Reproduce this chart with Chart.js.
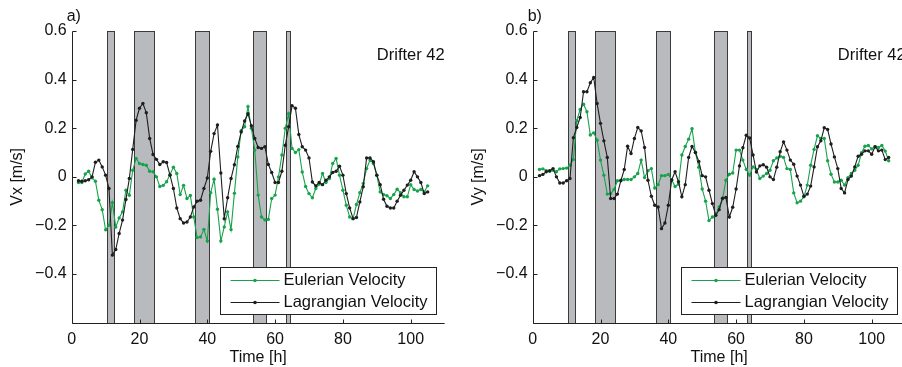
<!DOCTYPE html>
<html>
<head>
<meta charset="utf-8">
<title>Drifter 42 velocities</title>
<script src="https://cdn.jsdelivr.net/npm/chart.js@4.4.1/dist/chart.umd.min.js"></script>
<style>
  html, body { margin: 0; padding: 0; background: #fff; }
  #wrap { position: relative; width: 902px; height: 367px; overflow: hidden; }
  #wrap canvas { position: absolute; top: 0; }
  #vxChart { left: 0; }
  #vyChart { left: 461px; }
</style>
</head>
<body>
<div id="wrap">
  <canvas id="vxChart" width="460" height="367"></canvas>
  <canvas id="vyChart" width="460" height="367"></canvas>
</div>
<script>
// sample times [h]
const hours = [
  2, 3, 4, 5, 6, 7, 8, 9, 10, 11,
  12, 13, 14, 15, 16, 17, 18, 19, 20, 21,
  22, 23, 24, 25, 26, 27, 28, 29, 30, 31,
  32, 33, 34, 35, 36, 37, 38, 39, 40, 41,
  42, 43, 44, 45, 46, 47, 48, 49, 50, 51,
  52, 53, 54, 55, 56, 57, 58, 59, 60, 61,
  62, 63, 64, 65, 66, 67, 68, 69, 70, 71,
  72, 73, 74, 75, 76, 77, 78, 79, 80, 81,
  82, 83, 84, 85, 86, 87, 88, 89, 90, 91,
  92, 93, 94, 95, 96, 97, 98, 99, 100, 101,
  102, 103, 104, 105
];

// east-west velocity [m/s]
const vxEulerian = [
  -0.023, -0.023, 0.012, 0.023, -0.004, -0.018, -0.096, -0.135, -0.218, -0.199,
  -0.106, -0.206, -0.169, -0.144, -0.055, -0.076, 0.027, 0.076, 0.055, 0.051,
  0.048, 0.023, 0.021, 0.000, -0.040, -0.035, -0.020, 0.010, 0.040, 0.014,
  -0.073, -0.035, -0.089, -0.077, -0.165, -0.250, -0.247, -0.216, -0.264, -0.065,
  -0.010, -0.133, -0.264, -0.206, -0.144, -0.217, -0.067, 0.082, 0.190, 0.206,
  0.289, 0.200, 0.110, -0.075, -0.165, -0.177, -0.175, -0.089, -0.075, 0.000,
  0.090, 0.200, 0.260, 0.117, 0.100, 0.112, 0.020, -0.040, -0.069, -0.086,
  -0.048, -0.030, 0.014, -0.023, -0.007, 0.055, 0.076, 0.007, -0.055, -0.117,
  -0.165, -0.172, -0.114, -0.065, -0.027, 0.034, 0.069, 0.055, 0.007, -0.062,
  -0.073, -0.078, -0.089, -0.073, -0.051, -0.065, -0.082, -0.082, -0.032, -0.052,
  -0.058, -0.052, -0.062, -0.037
];
const vxLagrangian = [
  -0.016, -0.018, -0.016, -0.012, 0.000, 0.060, 0.069, 0.041, 0.007, -0.048,
  -0.322, -0.299, -0.233, -0.178, -0.093, -0.007, 0.113, 0.233, 0.282, 0.302,
  0.264, 0.158, 0.092, 0.072, 0.051, 0.062, 0.059, 0.007, -0.048, -0.128,
  -0.172, -0.190, -0.186, -0.165, -0.124, -0.100, -0.096, -0.048, -0.005, 0.105,
  0.178, 0.213, 0.016, -0.172, -0.086, -0.007, 0.050, 0.125, 0.185, 0.230,
  0.260, 0.210, 0.158, 0.121, 0.117, 0.124, 0.051, 0.018, -0.023, -0.023,
  0.023, 0.130, 0.206, 0.293, 0.282, 0.174, 0.124, 0.110, 0.078, -0.021,
  -0.037, -0.023, -0.032, -0.014, 0.000, 0.018, 0.023, 0.044, 0.007, -0.069,
  -0.128, -0.172, -0.167, -0.103, -0.041, 0.078, 0.078, 0.062, 0.007, -0.032,
  -0.092, -0.121, -0.128, -0.128, -0.100, -0.076, -0.055, -0.034, -0.014, 0.021,
  0.000, -0.023, -0.069, -0.062
];

// north-south velocity [m/s]
const vyEulerian = [
  0.030, 0.033, 0.025, 0.023, 0.027, 0.021, 0.033, 0.034, 0.036, 0.048,
  0.071, 0.231, 0.277, 0.299, 0.268, 0.172, 0.181, 0.151, 0.069, 0.007,
  -0.071, -0.069, -0.052, -0.016, -0.014, -0.011, -0.011, -0.011, 0.000, 0.014,
  0.069, -0.003, 0.025, 0.034, -0.046, -0.032, 0.005, 0.005, 0.010, -0.012,
  -0.040, -0.030, 0.090, 0.125, 0.155, 0.198, 0.100, 0.040, -0.050, -0.100,
  -0.180, -0.165, -0.158, -0.124, -0.090, -0.014, 0.011, 0.016, 0.110, 0.110,
  0.069, 0.030, 0.007, 0.041, 0.030, -0.007, 0.003, 0.014, 0.027, 0.066,
  0.078, 0.085, 0.080, 0.034, 0.030, -0.066, -0.107, -0.100, -0.082, -0.034,
  0.048, 0.113, 0.169, 0.158, 0.158, 0.066, 0.011, -0.021, -0.021, -0.014,
  -0.034, -0.003, 0.014, 0.027, 0.048, 0.099, 0.126, 0.129, 0.115, 0.124,
  0.121, 0.129, 0.106, 0.066
];
const vyLagrangian = [
  0.005, 0.010, 0.021, 0.025, 0.034, 0.000, -0.025, -0.025, -0.016, -0.007,
  0.161, 0.203, 0.244, 0.350, 0.350, 0.387, 0.409, 0.302, 0.220, 0.148,
  0.080, -0.089, -0.089, -0.071, -0.016, 0.030, 0.126, 0.096, 0.158, 0.203,
  0.189, 0.121, -0.014, -0.080, -0.117, -0.124, -0.213, -0.190, -0.117, -0.013,
  0.021, -0.020, -0.082, -0.032, 0.080, 0.125, 0.100, 0.063, 0.005, 0.000,
  -0.055, -0.110, -0.158, -0.135, -0.088, -0.085, -0.165, -0.125, -0.050, 0.045,
  0.120, 0.171, 0.160, 0.090, 0.020, 0.045, 0.050, 0.040, 0.000, -0.011,
  0.040, 0.103, 0.144, 0.110, 0.069, 0.052, 0.003, -0.034, -0.080, -0.071,
  -0.038, 0.041, 0.124, 0.148, 0.202, 0.195, 0.135, 0.082, 0.034, -0.048,
  -0.066, -0.011, 0.003, 0.041, 0.085, 0.093, 0.107, 0.107, 0.093, 0.124,
  0.107, 0.110, 0.071, 0.080
];

// shaded time windows [h]
const shadeStart = [10.3, 18.4, 36.4, 53.4, 63.3];
const shadeEnd = [12.5, 24.4, 40.4, 57.4, 64.5];

const timeTicks = [0, 20, 40, 60, 80, 100];
const velTicks = [-0.4, -0.2, 0, 0.2, 0.4, 0.6];

const FONT = '"Liberation Sans", Arial, Helvetica, sans-serif';
const GREEN = "#17a24c";
const BLACK = "#1e1e1e";
const AXIS = "#222";

Chart.defaults.font.family = FONT;
Chart.defaults.font.size = 16;
Chart.defaults.color = "#111";

function fmtVel(v) {
  if (Math.abs(v) < 1e-9) return "0";
  return v.toFixed(1).replace("-", "\u2212");
}

// grey boxes behind the curves
const shadePlugin = {
  id: "shade",
  beforeDatasetsDraw(chart) {
    const { ctx, chartArea: a, scales: { x } } = chart;
    ctx.save();
    ctx.fillStyle = "#b9babe";
    ctx.strokeStyle = "#3a3a3a";
    ctx.lineWidth = 1;
    shadeStart.forEach((s, i) => {
      const x0 = Math.round(x.getPixelForValue(s)) + 0.5;
      const x1 = Math.round(x.getPixelForValue(shadeEnd[i])) + 0.5;
      const top = Math.round(a.top) + 0.5;
      const h = Math.round(a.bottom) - Math.round(a.top);
      ctx.fillRect(x0, top, x1 - x0, h);
      ctx.strokeRect(x0, top, x1 - x0, h);
    });
    ctx.restore();
  }
};

// axis lines, inward tick marks, panel letter and drifter tag
const panelTextPlugin = {
  id: "panelText",
  afterDatasetsDraw(chart, args, opts) {
    const { ctx, chartArea: a, scales: { x, y } } = chart;
    const left = Math.round(a.left) + 0.5;
    const bottom = Math.round(a.bottom) + 0.5;
    ctx.save();
    ctx.strokeStyle = AXIS;
    ctx.lineWidth = 1;
    ctx.beginPath();
    ctx.moveTo(left, Math.round(a.top) + 0.5);
    ctx.lineTo(left, bottom);
    ctx.lineTo(a.right, bottom);
    timeTicks.forEach(t => {
      const px = Math.round(x.getPixelForValue(t)) + 0.5;
      ctx.moveTo(px, bottom);
      ctx.lineTo(px, bottom - 4);
    });
    velTicks.forEach(v => {
      const py = Math.round(y.getPixelForValue(v)) + 0.5;
      ctx.moveTo(left, py);
      ctx.lineTo(left + 4, py);
    });
    ctx.stroke();

    ctx.fillStyle = "#111";
    ctx.textBaseline = "middle";
    ctx.textAlign = "left";
    ctx.font = "16px " + FONT;
    ctx.fillText(opts.letter, a.left - 5, a.top - 14);
    ctx.font = "16.5px " + FONT;
    ctx.fillText(opts.note, x.getPixelForValue(90), y.getPixelForValue(0.5));
    ctx.restore();
  }
};

// boxed legend in the lower right corner
const boxLegendPlugin = {
  id: "boxLegend",
  afterDraw(chart) {
    const { ctx, chartArea: a } = chart;
    const left = Math.round(a.left + 148.3) + 0.5;
    const top = Math.round(a.bottom - 55.4) + 0.5;
    const w = 216, h = 47;
    ctx.save();
    ctx.fillStyle = "#fff";
    ctx.fillRect(left, top, w, h);
    ctx.strokeStyle = AXIS;
    ctx.lineWidth = 1;
    ctx.strokeRect(left, top, w, h);
    ctx.font = "16.5px " + FONT;
    ctx.textBaseline = "middle";
    ctx.textAlign = "left";
    chart.data.datasets.forEach((ds, i) => {
      const ly = Math.round(top + 12.7 + i * 21.7) + 0.5;
      ctx.strokeStyle = ds.borderColor;
      ctx.beginPath();
      ctx.moveTo(left + 10, ly);
      ctx.lineTo(left + 59, ly);
      ctx.stroke();
      ctx.fillStyle = ds.borderColor;
      ctx.beginPath();
      ctx.arc(left + 34.5, ly, 1.8, 0, Math.PI * 2);
      ctx.fill();
      ctx.fillStyle = "#111";
      ctx.fillText(ds.label, left + 63, ly);
    });
    ctx.restore();
  }
};

function panelConfig(letter, yTitle, eulerian, lagrangian) {
  return {
    type: "line",
    data: {
      datasets: [
        {
          label: "Eulerian Velocity",
          data: hours.map((h, i) => ({ x: h, y: eulerian[i] })),
          borderColor: GREEN,
          backgroundColor: GREEN,
          pointBackgroundColor: GREEN,
          order: 1
        },
        {
          label: "Lagrangian Velocity",
          data: hours.map((h, i) => ({ x: h, y: lagrangian[i] })),
          borderColor: BLACK,
          backgroundColor: BLACK,
          pointBackgroundColor: BLACK,
          order: 0
        }
      ]
    },
    options: {
      responsive: false,
      animation: false,
      devicePixelRatio: 1,
      layout: { padding: { left: 0, right: 15.4, top: 31, bottom: 0 } },
      elements: {
        line: { borderWidth: 1.1, tension: 0, fill: false },
        point: { radius: 1.7, borderWidth: 0, hoverRadius: 1.7 }
      },
      plugins: {
        legend: { display: false },
        tooltip: { enabled: false },
        panelText: { letter: letter, note: "Drifter 42" }
      },
      scales: {
        x: {
          type: "linear",
          min: 0,
          max: 110,
          afterBuildTicks: s => { s.ticks = timeTicks.map(v => ({ value: v })); },
          afterFit: s => { s.height = 44.3; },
          grid: { display: false, drawTicks: false },
          border: { display: false },
          ticks: { padding: 7, maxRotation: 0, color: "#111" },
          title: { display: true, text: "Time [h]", color: "#111", padding: { top: 0, bottom: 0 } }
        },
        y: {
          type: "linear",
          min: -0.6,
          max: 0.6,
          afterBuildTicks: s => { s.ticks = velTicks.map(v => ({ value: v })); },
          afterFit: s => { s.width = 71.7; },
          grid: { display: false, drawTicks: false },
          border: { display: false },
          ticks: { padding: 5, color: "#111", callback: v => fmtVel(v) },
          title: { display: true, text: yTitle, color: "#111", padding: { top: 8, bottom: 0 } }
        }
      }
    },
    plugins: [shadePlugin, panelTextPlugin, boxLegendPlugin]
  };
}

document.addEventListener("DOMContentLoaded", function () {
  const vxCtx = document.getElementById("vxChart")?.getContext("2d");
  if (vxCtx) new Chart(vxCtx, panelConfig("a)", "Vx [m/s]", vxEulerian, vxLagrangian));

  const vyCtx = document.getElementById("vyChart")?.getContext("2d");
  if (vyCtx) new Chart(vyCtx, panelConfig("b)", "Vy [m/s]", vyEulerian, vyLagrangian));
});
</script>
</body>
</html>
